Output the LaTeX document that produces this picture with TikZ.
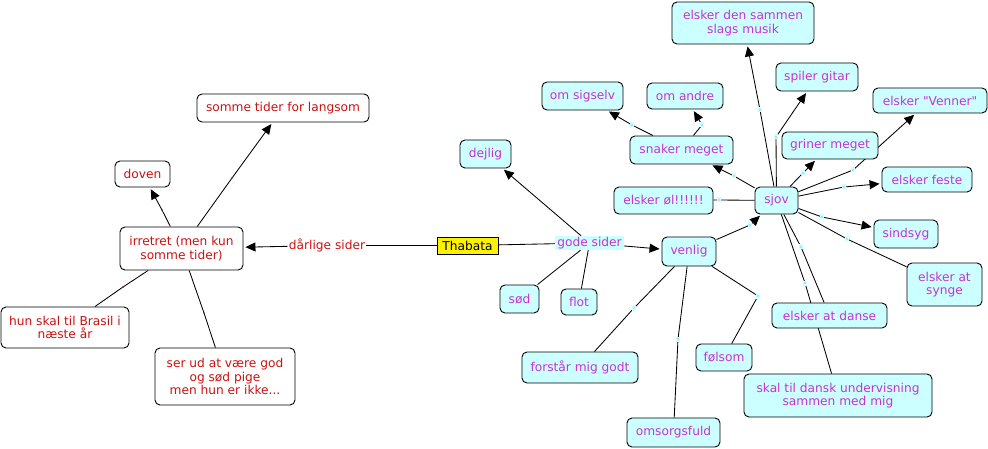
\documentclass[tikz,border=0pt]{standalone}
\usepackage{fontspec}
\setmainfont{DejaVu Sans}
\newfontfamily\plainf{DejaVu Sans}
\usetikzlibrary{arrows.meta,backgrounds}
\definecolor{cfill}{RGB}{204,255,255}
\definecolor{redtxt}{RGB}{204,17,17}
\definecolor{magtxt}{RGB}{200,50,210}
\definecolor{lpdot}{RGB}{80,120,230}
\tikzset{
 concept/.style={draw=black, line width=0.9pt, rounded corners=5pt, inner sep=1pt, align=center, font=\fontsize{12.2}{13.7}\selectfont},
 goodc/.style={concept, fill=cfill, text=magtxt},
 badc/.style={concept, fill=white, text=redtxt},
 lpg/.style={rectangle, fill=cfill, inner sep=0pt, minimum width=4pt, minimum height=5pt, path picture={\fill[lpdot] (path picture bounding box.center) circle (0.6pt);}},
 lpr/.style={circle, fill=redtxt, inner sep=0pt, minimum size=1.6pt},
 conn/.style={draw=black, line width=0.85pt},
 arr/.style={conn, -{Triangle[length=10pt,width=9pt]}, shorten >=2pt},
}
\begin{document}
\begin{tikzpicture}[x=1pt,y=-1pt]
\useasboundingbox (0,0) rectangle (988,449);
% left concepts
\node[badc, minimum width=172pt, minimum height=28pt] (somme) at (283,108) {somme tider for langsom};
\node[badc, minimum width=55pt, minimum height=26pt] (doven) at (142.5,174) {doven};
\node[badc, minimum width=123pt, minimum height=43pt] (irr) at (181.5,248.5) {irretret (men kun\\somme tider)};
\node[badc, minimum width=128pt, minimum height=41pt] (hun) at (65,327.5) {hun skal til Brasil i\\næste år};
\node[badc, minimum width=140pt, minimum height=57pt] (ser) at (225,376.5) {ser ud at være god\\og sød pige\\men hun er ikke...};
\node[font=\fontsize{12.2}{13.7}\selectfont, text=redtxt, inner sep=1pt] (dar) at (327,245.5) {dårlige sider};
\node[draw=black, line width=0.9pt, fill=yellow, minimum width=61pt, minimum height=17pt, inner sep=0pt, font=\fontsize{12.2}{13.7}\selectfont] (thab) at (467.5,245.5) {Thabata};
\node[fill=cfill, text=magtxt, minimum width=69pt, minimum height=14pt, inner sep=0pt, font=\fontsize{12.2}{13.7}\selectfont] (gode) at (589.5,243) {gode sider};
% right concepts
\node[goodc, minimum width=51pt, minimum height=28pt] (dejlig) at (485.5,154) {dejlig};
\node[goodc, minimum width=39pt, minimum height=28pt] (sod) at (519.5,299) {sød};
\node[goodc, minimum width=36pt, minimum height=26pt] (flot) at (579,302) {flot};
\node[goodc, minimum width=54pt, minimum height=29pt] (venlig) at (689,251.5) {venlig};
\node[goodc, minimum width=99pt, minimum height=27pt] (ol) at (663.5,200.5) {elsker øl!!!!!!};
\node[goodc, minimum width=43pt, minimum height=27pt] (sjov) at (776.5,200.5) {sjov};
\node[goodc, minimum width=103pt, minimum height=28pt] (snaker) at (681.5,150) {snaker meget};
\node[goodc, minimum width=81pt, minimum height=28pt] (sigselv) at (582.5,96) {om sigselv};
\node[goodc, minimum width=76pt, minimum height=26pt] (andre) at (685,96) {om andre};
\node[goodc, minimum width=142pt, minimum height=42pt] (musik) at (743,23) {elsker den sammen\\slags musik};
\node[goodc, minimum width=82pt, minimum height=28pt] (spiler) at (817,77) {spiler gitar};
\node[goodc, minimum width=114pt, minimum height=25pt] (venner) at (930,100.5) {elsker {\plainf "}Venner{\plainf "}};
\node[goodc, minimum width=96pt, minimum height=27pt] (griner) at (830,145.5) {griner meget};
\node[goodc, minimum width=90pt, minimum height=25pt] (feste) at (927,179.5) {elsker feste};
\node[goodc, minimum width=64pt, minimum height=28pt] (sindsyg) at (906,234) {sindsyg};
\node[goodc, minimum width=75pt, minimum height=43pt] (synge) at (944.5,284.5) {elsker at\\synge};
\node[goodc, minimum width=115pt, minimum height=25pt] (danse) at (829.5,315.5) {elsker at danse};
\node[goodc, minimum width=188pt, minimum height=43pt] (skal) at (838,395.5) {skal til dansk undervisning\\sammen med mig};
\node[goodc, minimum width=56pt, minimum height=27pt] (folsom) at (724,357.5) {følsom};
\node[goodc, minimum width=116pt, minimum height=31pt] (forstar) at (580,367.5) {forstår mig godt};
\node[goodc, minimum width=93pt, minimum height=29pt] (omsorg) at (673.5,432.5) {omsorgsfuld};
% linking points
\node[lpr] (l1) at (162,210) {};
\node[lpr] (l2) at (232,178) {};
\node[lpr] (l3) at (123,287) {};
\node[lpr] (l4) at (204,313) {};
\node[lpg] (p1) at (750,225) {};
\node[lpg] (p2) at (634,308) {};
\node[lpg] (p3) at (678,339) {};
\node[lpg] (p4) at (758,296) {};
\node[lpg] (p5) at (734,176) {};
\node[lpg] (p6) at (719,200) {};
\node[lpg] (p7) at (760,110) {};
\node[lpg] (p8) at (776,137) {};
\node[lpg] (p9) at (803,173) {};
\node[lpg] (p10) at (853,170) {};
\node[lpg] (p11) at (844,187) {};
\node[lpg] (p12) at (822,217) {};
\node[lpg] (p13) at (847,239) {};
\node[lpg] (p14) at (801,247) {};
\node[lpg] (p15) at (805,283) {};
\node[lpg] (p16) at (632,125) {};
\node[lpg] (p17) at (702,125) {};
\begin{scope}[on background layer]
\fill[white] (0,0) rectangle (988,449);
% left
\draw[conn] (irr) -- (l1.center);
\draw[arr] (l1.center) -- (doven);
\draw[conn] (irr) -- (l2.center);
\draw[arr] (l2.center) -- (somme);
\draw[conn] (irr) -- (l3.center) -- (hun);
\draw[conn] (irr) -- (l4.center) -- (ser);
\draw[conn] (thab) -- (dar);
\draw[arr] (dar) -- (irr);
\draw[conn] (thab) -- (gode);
\draw[arr] (gode) -- (dejlig);
\draw[arr] (gode) -- (venlig);
\draw[conn] (gode) -- (sod);
\draw[conn] (gode) -- (flot);
% venlig
\draw[conn] (venlig) -- (p1.center);
\draw[arr] (p1.center) -- (sjov);
\draw[conn] (venlig) -- (p2.center) -- (forstar);
\draw[conn] (venlig) -- (p3.center) -- (omsorg);
\draw[conn] (venlig) -- (p4.center) -- (folsom);
% sjov
\draw[conn] (sjov) -- (p5.center);
\draw[arr] (p5.center) -- (snaker);
\draw[conn] (sjov) -- (p6.center) -- (ol);
\draw[conn] (sjov) -- (p7.center);
\draw[arr] (p7.center) -- (musik);
\draw[conn] (sjov) -- (p8.center);
\draw[arr] (p8.center) -- (spiler);
\draw[conn] (sjov) -- (p9.center);
\draw[arr] (p9.center) -- (griner);
\draw[conn] (sjov) -- (p10.center);
\draw[arr] (p10.center) -- (venner);
\draw[conn] (sjov) -- (p11.center);
\draw[arr] (p11.center) -- (feste);
\draw[conn] (sjov) -- (p12.center);
\draw[arr] (p12.center) -- (sindsyg);
\draw[conn] (sjov) -- (p13.center) -- (synge);
\draw[conn] (sjov) -- (p14.center) -- (danse);
\draw[conn] (sjov) -- (p15.center) -- (skal);
% snaker
\draw[conn] (snaker) -- (p16.center);
\draw[arr] (p16.center) -- (sigselv);
\draw[conn] (snaker) -- (p17.center);
\draw[arr] (p17.center) -- (andre);
\end{scope}
\end{tikzpicture}
\end{document}
